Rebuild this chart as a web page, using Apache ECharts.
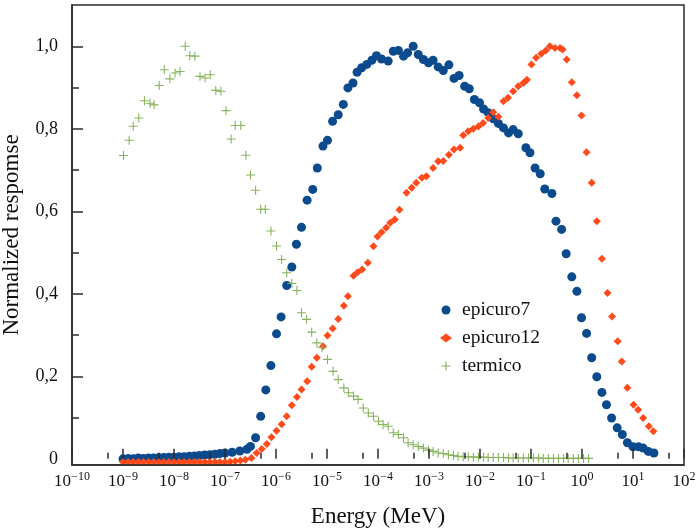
<!DOCTYPE html>
<html>
<head>
<meta charset="utf-8">
<script src="https://cdn.jsdelivr.net/npm/echarts@6/dist/echarts.min.js"></script>
<style>
  html, body { margin: 0; padding: 0; background: #ffffff; }
  #chart { width: 698px; height: 529px; }
</style>
</head>
<body>
<div id="chart"></div>
<script>
// Energy positions are stored as log10(E / MeV); responses are normalized.
const epicuro7LogE = [-9.00,-8.90,-8.80,-8.70,-8.60,-8.50,-8.40,-8.30,-8.20,-8.10,-8.00,-7.90,-7.80,-7.70,-7.60,-7.50,-7.40,-7.30,-7.20,-7.10,-7.00,-6.86,-6.71,-6.57,-6.50,-6.40,-6.30,-6.20,-6.10,-5.99,-5.90,-5.79,-5.69,-5.60,-5.50,-5.39,-5.28,-5.19,-5.08,-4.99,-4.89,-4.78,-4.68,-4.59,-4.49,-4.41,-4.32,-4.22,-4.12,-4.03,-3.93,-3.80,-3.70,-3.60,-3.50,-3.42,-3.31,-3.21,-3.11,-3.01,-2.92,-2.82,-2.72,-2.61,-2.51,-2.41,-2.30,-2.21,-2.11,-2.01,-1.93,-1.84,-1.74,-1.64,-1.54,-1.44,-1.35,-1.25,-1.10,-1.02,-0.92,-0.82,-0.73,-0.59,-0.51,-0.40,-0.31,-0.20,-0.10,-0.01,0.09,0.19,0.29,0.39,0.48,0.58,0.69,0.79,0.89,1.00,1.11,1.20,1.30,1.41];
const epicuro7Resp = [0.000,0.001,0.000,0.002,0.001,0.002,0.002,0.003,0.003,0.004,0.004,0.005,0.005,0.006,0.007,0.008,0.009,0.010,0.011,0.013,0.014,0.016,0.019,0.023,0.030,0.051,0.103,0.167,0.226,0.303,0.344,0.420,0.465,0.520,0.561,0.627,0.653,0.705,0.758,0.772,0.818,0.834,0.859,0.899,0.911,0.937,0.948,0.956,0.966,0.977,0.969,0.964,0.988,0.990,0.976,0.984,1.000,0.980,0.968,0.960,0.966,0.950,0.941,0.955,0.922,0.929,0.903,0.897,0.871,0.863,0.848,0.839,0.824,0.813,0.802,0.790,0.798,0.788,0.754,0.742,0.705,0.691,0.654,0.643,0.576,0.556,0.497,0.441,0.406,0.342,0.304,0.245,0.199,0.161,0.131,0.099,0.075,0.059,0.039,0.029,0.029,0.026,0.018,0.014];

const epicuro12LogE = [-9.00,-8.90,-8.80,-8.70,-8.60,-8.50,-8.40,-8.30,-8.20,-8.10,-8.00,-7.90,-7.80,-7.70,-7.60,-7.50,-7.40,-7.30,-7.20,-7.10,-7.00,-6.90,-6.80,-6.70,-6.60,-6.48,-6.38,-6.28,-6.18,-6.09,-5.99,-5.89,-5.79,-5.69,-5.59,-5.50,-5.39,-5.30,-5.20,-5.08,-4.99,-4.89,-4.78,-4.67,-4.59,-4.48,-4.40,-4.31,-4.20,-4.09,-4.01,-3.93,-3.84,-3.76,-3.67,-3.58,-3.44,-3.34,-3.25,-3.14,-3.05,-2.92,-2.82,-2.72,-2.61,-2.51,-2.39,-2.33,-2.23,-2.13,-2.03,-1.94,-1.84,-1.74,-1.64,-1.54,-1.45,-1.35,-1.25,-1.15,-1.08,-0.99,-0.90,-0.80,-0.71,-0.63,-0.53,-0.43,-0.38,-0.30,-0.20,-0.10,-0.01,0.09,0.19,0.29,0.39,0.50,0.59,0.70,0.78,0.89,1.01,1.10,1.20,1.31,1.40];
const epicuro12Resp = [-0.008,-0.008,-0.008,-0.008,-0.008,-0.008,-0.008,-0.008,-0.008,-0.008,-0.008,-0.008,-0.008,-0.008,-0.008,-0.008,-0.008,-0.008,-0.008,-0.008,-0.008,-0.007,-0.006,-0.004,-0.002,0.002,0.014,0.024,0.036,0.052,0.068,0.084,0.103,0.130,0.150,0.168,0.188,0.223,0.245,0.273,0.299,0.316,0.339,0.371,0.394,0.444,0.452,0.459,0.475,0.515,0.539,0.549,0.560,0.572,0.580,0.604,0.645,0.657,0.669,0.681,0.685,0.705,0.721,0.722,0.737,0.750,0.754,0.784,0.794,0.800,0.806,0.814,0.826,0.840,0.829,0.867,0.875,0.891,0.903,0.911,0.919,0.956,0.972,0.982,0.990,1.000,0.996,0.996,0.992,0.968,0.913,0.881,0.832,0.743,0.669,0.576,0.485,0.402,0.345,0.285,0.236,0.172,0.131,0.119,0.099,0.079,0.067];

const termicoLogE = [-8.99,-8.88,-8.80,-8.69,-8.58,-8.47,-8.39,-8.29,-8.19,-8.08,-7.98,-7.88,-7.78,-7.69,-7.59,-7.49,-7.39,-7.29,-7.18,-7.08,-6.98,-6.88,-6.80,-6.69,-6.59,-6.50,-6.40,-6.30,-6.21,-6.10,-5.99,-5.89,-5.79,-5.69,-5.59,-5.50,-5.40,-5.30,-5.20,-5.10,-4.99,-4.88,-4.78,-4.67,-4.58,-4.48,-4.39,-4.29,-4.19,-4.09,-3.99,-3.90,-3.80,-3.70,-3.60,-3.50,-3.41,-3.31,-3.21,-3.11,-3.01,-2.92,-2.82,-2.72,-2.62,-2.52,-2.43,-2.33,-2.23,-2.13,-2.03,-1.93,-1.84,-1.74,-1.64,-1.54,-1.44,-1.35,-1.25,-1.15,-1.05,-0.95,-0.85,-0.76,-0.66,-0.56,-0.46,-0.36,-0.27,-0.17,-0.07,0.03,0.13];
const termicoResp = [0.735,0.772,0.806,0.826,0.868,0.862,0.858,0.905,0.943,0.921,0.935,0.939,1.000,0.977,0.976,0.927,0.923,0.931,0.893,0.891,0.844,0.775,0.808,0.808,0.736,0.688,0.651,0.605,0.605,0.552,0.516,0.483,0.451,0.425,0.408,0.354,0.338,0.307,0.281,0.269,0.241,0.212,0.192,0.172,0.160,0.152,0.144,0.123,0.111,0.103,0.091,0.083,0.079,0.063,0.059,0.051,0.039,0.034,0.030,0.026,0.021,0.018,0.014,0.013,0.010,0.008,0.006,0.005,0.005,0.004,0.004,0.004,0.003,0.003,0.003,0.003,0.002,0.002,0.002,0.002,0.002,0.002,0.002,0.001,0.001,0.001,0.001,0.001,0.001,0.001,0.001,0.001,0.001];

// Axis ticks and labels
const decadeTicks = [1e-10,1e-9,1e-8,1e-7,1e-6,1e-5,1e-4,1e-3,1e-2,1e-1,1e0,1e1,1e2];
const halfDecadeTicks = [5e-10,5e-9,5e-8,5e-7,5e-6,5e-5,5e-4,5e-3,5e-2,5e-1,5e0,5e1];
const yLabelValues = [0,0.2,0.4,0.6,0.8,1.0];
const yMajorTicks = [0.2,0.4,0.6,0.8,1.0];
const yMinorTicks = [0.1,0.3,0.5,0.7,0.9];

const FONT = 'Liberation Serif';
const INK = '#2b2b2b';
const PLUS = 'path://M4.4,0H5.6V4.4H10V5.6H5.6V10H4.4V5.6H0V4.4H4.4Z';

function toPoints(logE, resp) {
  return logE.map((e, i) => [Math.pow(10, e), resp[i]]);
}

function powerLabel(v) {
  const p = Math.round(Math.log10(v));
  const exp = p < 0 ? '\u2212' + (-p) : String(p);
  return '{b|10}{s|' + exp + '}';
}

// A bare log axis that only draws inward ticks at the given energies
function energyTickAxis(values, len) {
  return {
    type: 'log', logBase: 10, min: 1e-10, max: 1e2, position: 'bottom', z: 10,
    axisLine: { show: false },
    axisTick: { show: true, inside: true, length: len, customValues: values, lineStyle: { color: INK, width: 1.5 } },
    axisLabel: { show: false },
    splitLine: { show: false }
  };
}

const chart = echarts.init(document.getElementById('chart'), null, { renderer: 'canvas' });

chart.setOption({
  animation: false,
  backgroundColor: '#ffffff',
  textStyle: { fontFamily: FONT, color: '#111' },
  grid: {
    left: 72, right: 14, top: 5, bottom: 64,
    containLabel: false, outerBoundsMode: 'none',
    show: true, borderColor: INK, borderWidth: 1.5, backgroundColor: 'transparent'
  },
  legend: {
    orient: 'vertical',
    left: 435, top: 295,
    itemWidth: 12, itemHeight: 9, itemGap: 8,
    textStyle: { fontFamily: FONT, fontSize: 19.5, lineHeight: 20, color: '#111', padding: [0, 0, 0, 5] },
    data: [
      { name: 'epicuro7', icon: 'circle' },
      { name: 'epicuro12', icon: 'diamond' },
      { name: 'termico', icon: PLUS }
    ]
  },
  xAxis: [
    {
      type: 'log', logBase: 10, min: 1e-10, max: 1e2, position: 'bottom', z: 10,
      name: 'Energy (MeV)', nameLocation: 'middle', nameGap: 39,
      nameTextStyle: { fontFamily: FONT, fontSize: 23, lineHeight: 26, color: '#111' },
      axisLine: { show: true, onZero: false, lineStyle: { color: INK, width: 1.5 } },
      axisTick: { show: false },
      axisLabel: {
        customValues: decadeTicks, margin: 6, color: '#111',
        formatter: powerLabel,
        rich: {
          b: { fontFamily: FONT, fontSize: 17, lineHeight: 22, color: '#111' },
          s: { fontFamily: FONT, fontSize: 12, lineHeight: 12, verticalAlign: 'top', color: '#111' }
        }
      },
      splitLine: { show: false }, minorTick: { show: false }
    },
    energyTickAxis(decadeTicks, 10),
    energyTickAxis(halfDecadeTicks, 6)
  ],
  yAxis: [
    {
      type: 'value', min: -0.015, max: 1.1, position: 'left', z: 10,
      name: 'Normalized respomse', nameLocation: 'middle', nameGap: 35,
      nameTextStyle: { fontFamily: FONT, fontSize: 23, lineHeight: 26, color: '#111' },
      axisLine: { show: true, onZero: false, lineStyle: { color: INK, width: 1.5 } },
      axisTick: { show: true, inside: true, length: 11, customValues: yMajorTicks, lineStyle: { color: INK, width: 1.5 } },
      axisLabel: {
        customValues: yLabelValues, margin: 14,
        fontFamily: FONT, fontSize: 18, color: '#111',
        formatter: v => (v === 0 ? '0' : v.toFixed(1).replace('.', ','))
      },
      splitLine: { show: false }
    },
    {
      type: 'value', min: -0.015, max: 1.1, position: 'left', z: 10,
      axisLine: { show: false },
      axisTick: { show: true, inside: true, length: 7, customValues: yMinorTicks, lineStyle: { color: INK, width: 1.5 } },
      axisLabel: { show: false },
      splitLine: { show: false }
    }
  ],
  series: [
    {
      name: 'epicuro7', type: 'scatter', xAxisIndex: 0, yAxisIndex: 0,
      symbol: 'circle', symbolSize: 9,
      itemStyle: { color: '#0c4a8e', opacity: 1 },
      data: toPoints(epicuro7LogE, epicuro7Resp)
    },
    {
      name: 'epicuro12', type: 'scatter', xAxisIndex: 0, yAxisIndex: 0,
      symbol: 'diamond', symbolSize: 8,
      itemStyle: { color: '#ff4a1c', opacity: 1 },
      data: toPoints(epicuro12LogE, epicuro12Resp)
    },
    {
      name: 'termico', type: 'scatter', xAxisIndex: 0, yAxisIndex: 0,
      symbol: PLUS, symbolSize: 9,
      itemStyle: { color: '#86b25c', opacity: 1 },
      data: toPoints(termicoLogE, termicoResp)
    }
  ]
});
</script>
</body>
</html>
